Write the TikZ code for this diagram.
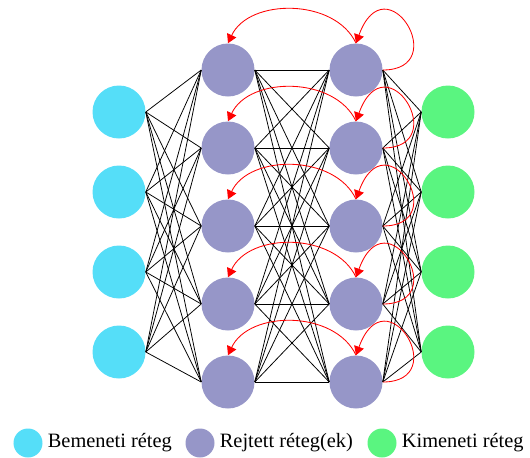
\documentclass[tikz,border=0pt]{standalone}
\usepackage{fontspec}
\setmainfont{Liberation Serif}
\usetikzlibrary{arrows.meta,positioning}

\definecolor{inputcol}{RGB}{85,222,248}
\definecolor{hiddencol}{RGB}{150,150,200}
\definecolor{outputcol}{RGB}{90,245,128}

\begin{document}
\begin{tikzpicture}[
  neuron/.style={circle, minimum size=1.325cm, inner sep=0pt},
  innode/.style={neuron, fill=inputcol},
  hidnode/.style={neuron, fill=hiddencol},
  outnode/.style={neuron, fill=outputcol},
  link/.style={black, line width=0.55pt},
  recur/.style={red, line width=0.6pt, -{Triangle[length=0.22cm, width=0.25cm]}},
  legdot/.style={circle, minimum size=0.725cm, inner sep=0pt},
  legtext/.style={font=\fontsize{14.5}{17}\selectfont, inner sep=0pt}
]
\useasboundingbox (0,0) rectangle (13.25,-11.425);

% Input layer
\node[innode] (in-1) at (2.975,-2.8) {};
\node[innode] (in-2) at (2.975,-4.8) {};
\node[innode] (in-3) at (2.975,-6.8) {};
\node[innode] (in-4) at (2.975,-8.8) {};

% Hidden layers
\node[hidnode] (h1-1) at (5.7,-1.75) {};
\node[hidnode] (h1-2) at (5.7,-3.7) {};
\node[hidnode] (h1-3) at (5.7,-5.65) {};
\node[hidnode] (h1-4) at (5.7,-7.6) {};
\node[hidnode] (h1-5) at (5.7,-9.55) {};

\node[hidnode] (h2-1) at (8.9,-1.75) {};
\node[hidnode] (h2-2) at (8.9,-3.7) {};
\node[hidnode] (h2-3) at (8.9,-5.65) {};
\node[hidnode] (h2-4) at (8.9,-7.6) {};
\node[hidnode] (h2-5) at (8.9,-9.55) {};

% Output layer
\node[outnode] (out-1) at (11.2,-2.8) {};
\node[outnode] (out-2) at (11.2,-4.8) {};
\node[outnode] (out-3) at (11.2,-6.8) {};
\node[outnode] (out-4) at (11.2,-8.8) {};

% Fully connected weights
\foreach \i in {1,...,4}
  \foreach \j in {1,...,5}
    \draw[link] (in-\i.east) -- (h1-\j.west);
\foreach \i in {1,...,5}
  \foreach \j in {1,...,5}
    \draw[link] (h1-\i.east) -- (h2-\j.west);
\foreach \i in {1,...,5}
  \foreach \j in {1,...,4}
    \draw[link] (h2-\i.east) -- (out-\j.west);

% Recurrent arrows
\foreach \i in {1,...,5} {
  \draw[recur] (h2-\i.north) to[out=115, in=65] (h1-\i.north);
  \draw[recur] (h2-\i.east) .. controls +(0:1.75) and +(70:2.2) .. (h2-\i.north);
}

% Legend
\node[legdot, fill=inputcol] (leg-in) at (0.7,-11.075) {};
\node[legtext, right=0.12cm of leg-in] (leg-in-txt) {Bemeneti réteg};
\node[legdot, fill=hiddencol] (leg-hid) at (5.0,-11.075) {};
\node[legtext, right=0.12cm of leg-hid] (leg-hid-txt) {Rejtett réteg(ek)};
\node[legdot, fill=outputcol] (leg-out) at (9.55,-11.075) {};
\node[legtext, right=0.12cm of leg-out] (leg-out-txt) {Kimeneti réteg};

\end{tikzpicture}
\end{document}
